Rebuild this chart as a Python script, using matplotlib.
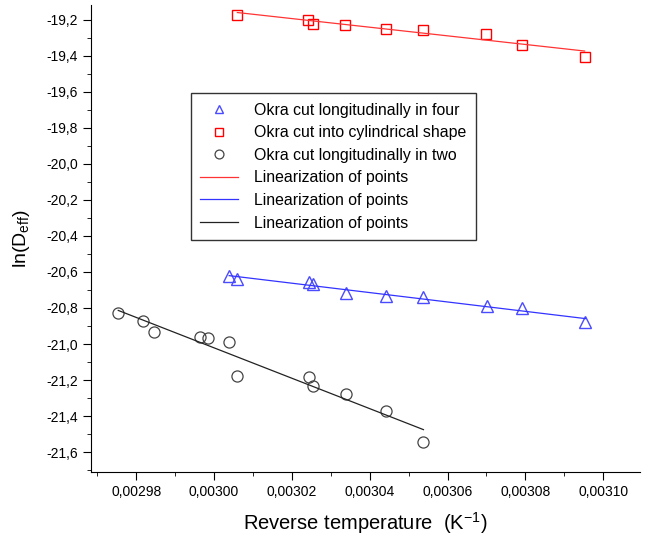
import numpy as np
import matplotlib
matplotlib.use("Agg")
import matplotlib.pyplot as plt
from matplotlib.ticker import FuncFormatter, MultipleLocator

plt.rcParams['font.family'] = ['Liberation Sans', 'DejaVu Sans']

# okra cut longitudinally in four (blue triangles)
x_four = [0.0030039, 0.0030060, 0.0030244, 0.0030255, 0.0030340,
          0.0030443, 0.0030538, 0.0030702, 0.0030790, 0.0030954]
y_four = [-20.622, -20.639, -20.656, -20.667, -20.717,
          -20.733, -20.739, -20.789, -20.800, -20.878]

# okra cut into cylindrical shape (red squares)
x_cyl = [0.0030060, 0.0030242, 0.0030255, 0.0030337, 0.0030443,
         0.0030538, 0.0030700, 0.0030790, 0.0030952]
y_cyl = [-19.172, -19.200, -19.222, -19.228, -19.250,
         -19.256, -19.278, -19.339, -19.406]

# okra cut longitudinally in two (grey circles)
x_two = [0.0029754, 0.0029818, 0.0029846, 0.0029965, 0.0029985, 0.0030039,
         0.0030060, 0.0030245, 0.0030255, 0.0030340, 0.0030443, 0.0030538]
y_two = [-20.828, -20.872, -20.933, -20.961, -20.967, -20.989,
         -21.178, -21.183, -21.233, -21.278, -21.372, -21.544]

fig = plt.figure(figsize=(6.5, 5.46), dpi=100)
ax = fig.add_axes([0.14, 0.1355, 0.845, 0.855])

ax.plot(x_four, y_four, '^', ms=8, mfc='none', mec='#4a4aff', mew=1.0,
        label='Okra cut longitudinally in four')
ax.plot(x_cyl, y_cyl, 's', ms=7, mfc='none', mec='red', mew=1.0,
        label='Okra cut into cylindrical shape')
ax.plot(x_two, y_two, 'o', ms=8, mfc='none', mec='#444444', mew=0.9,
        label='Okra cut longitudinally in two')

# linear fits
for xs, ys, c in [(x_cyl, y_cyl, '#ff3333'), (x_four, y_four, '#3333ff'), (x_two, y_two, '#222222')]:
    p = np.polyfit(xs, ys, 1)
    xx = np.array([min(xs), max(xs)])
    ax.plot(xx, np.polyval(p, xx), color=c, lw=0.9, label='Linearization of points')

ax.set_xlim(0.0029684, 0.0031095)
ax.set_ylim(-21.71, -19.12)

ax.xaxis.set_major_locator(MultipleLocator(0.00002))
ax.xaxis.set_minor_locator(MultipleLocator(0.00001))
ax.yaxis.set_major_locator(MultipleLocator(0.2))
ax.yaxis.set_minor_locator(MultipleLocator(0.1))
ax.xaxis.set_major_formatter(FuncFormatter(lambda v, p: ('%.5f' % v).replace('.', ',')))
ax.yaxis.set_major_formatter(FuncFormatter(lambda v, p: ('%.1f' % v).replace('.', ',')))

ax.spines['top'].set_visible(False)
ax.spines['right'].set_visible(False)
ax.tick_params(which='major', direction='out', length=6, labelsize=10)
ax.tick_params(which='minor', direction='out', length=3)

ax.set_xlabel('Reverse temperature  (K$^{\\mathregular{-1}}$)', fontsize=14.5, labelpad=8)
ax.set_ylabel('ln(D$_{\\mathregular{eff}}$)', fontsize=14, labelpad=10)

leg = ax.legend(loc='upper left', bbox_to_anchor=(0.182, 0.8116), fontsize=11.4,
                frameon=True, fancybox=False, edgecolor='black', markerscale=0.8,
                handlelength=2.4, handletextpad=1.0, borderpad=0.6,
                labelspacing=0.48, borderaxespad=0)
leg.get_frame().set_linewidth(1.0)

fig.savefig('out.png', dpi=100)
